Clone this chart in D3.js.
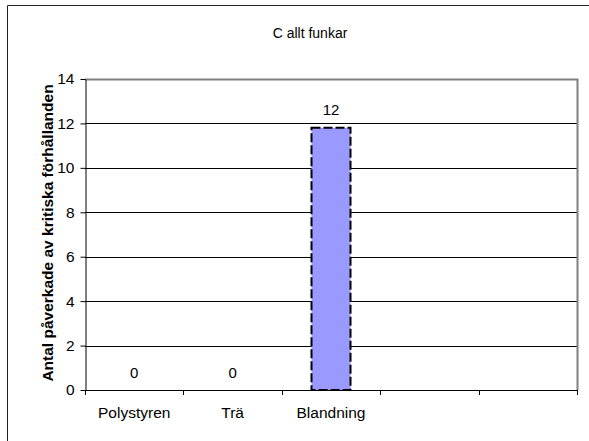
<!DOCTYPE html>
<html><head><meta charset="utf-8">
<script src="https://cdn.jsdelivr.net/npm/d3@7"></script>
<style>body{margin:0;background:#fff}svg{display:block}text{font-family:"Liberation Sans",Arial,sans-serif}</style>
</head><body><svg id="c" width="589" height="441"></svg>
<script>
const categories = ["Polystyren", "Trä", "Blandning", "", ""];
const values = [0, 0, 11.8, null, null];
const dataLabels = ["0", "0", "12", null, null];
const yTicks = [0, 2, 4, 6, 8, 10, 12, 14];
const title = "C allt funkar";
const yTitle = "Antal påverkade av kritiska förhållanden";

const FONT = '"Liberation Sans",Arial,sans-serif';
const svg = d3.select("#c");
const m = {l: 85, r: 577, t: 79, b: 390};
// outer frame (left & top visible)
svg.append("path").attr("d", "M7.5,441 V5.5 H589").attr("fill", "none").attr("stroke", "#222").attr("stroke-width", 1);

const x = d3.scaleBand().domain(categories.map((c, i) => i)).range([m.l, m.r]).paddingInner(0).paddingOuter(0);
const y = d3.scaleLinear().domain([0, 14]).range([m.b, m.t]);

// gridlines
svg.append("g").selectAll("line").data(yTicks.filter(t => t > 0 && t < 14)).join("line")
  .attr("x1", m.l).attr("x2", m.r).attr("y1", d => Math.round(y(d)) + 0.5).attr("y2", d => Math.round(y(d)) + 0.5)
  .attr("stroke", "#000").attr("stroke-width", 1);
// plot area top/right border (gray)
svg.append("path").attr("d", `M${m.l},${Math.round(y(14)) + 0.5} H${m.r + 0.5} V${m.b}`)
  .attr("fill", "none").attr("stroke", "#808080").attr("stroke-width", 2);

// bars
const bw = 39;
svg.append("g").selectAll("rect").data(values.map((v, i) => ({v, i})).filter(d => d.v)).join("rect")
  .attr("x", d => x(d.i) + x.bandwidth() / 2 - bw / 2)
  .attr("y", d => y(d.v))
  .attr("width", bw)
  .attr("height", d => y(0) - y(d.v))
  .attr("fill", "#9999FF").attr("stroke", "#000").attr("stroke-width", 2).attr("stroke-dasharray", "9,3");

// data labels
svg.append("g").selectAll("text").data(values.map((v, i) => ({v, i, l: dataLabels[i]})).filter(d => d.l !== null)).join("text")
  .attr("x", d => x(d.i) + x.bandwidth() / 2)
  .attr("y", d => y(d.v) - 12.5)
  .attr("text-anchor", "middle").attr("font-size", 15).attr("fill", "#000")
  .text(d => d.l);

// y axis
const yAxis = svg.append("g").attr("transform", `translate(${m.l + 0.5},0)`)
  .call(d3.axisLeft(y).tickValues(yTicks).tickSize(5).tickSizeOuter(0).tickPadding(6));
yAxis.select(".domain").attr("stroke", "#000");
yAxis.selectAll(".tick line").attr("stroke", "#000");
yAxis.selectAll("text").attr("font-size", 15.5).attr("fill", "#000").attr("font-family", FONT);

// x axis
const xAxis = svg.append("g").attr("transform", `translate(0,${m.b + 0.5})`)
  .call(d3.axisBottom(x).tickFormat(i => categories[i]).tickSize(0).tickPadding(0));
xAxis.select(".domain").attr("stroke", "#000").attr("d", `M${m.l},0H${m.r + 1}`);
xAxis.selectAll("text").attr("font-size", 15.5).attr("fill", "#000").attr("font-family", FONT)
  .attr("dy", null).attr("y", 27.5);
// tick marks at band boundaries
const bounds = categories.map((c, i) => x(i)).concat([m.r]);
svg.append("g").selectAll("line").data(bounds).join("line")
  .attr("x1", d => Math.round(d) + 0.5).attr("x2", d => Math.round(d) + 0.5)
  .attr("y1", m.b).attr("y2", m.b + 5).attr("stroke", "#000");

// titles
svg.append("text").attr("x", 310).attr("y", 38).attr("text-anchor", "middle").attr("font-size", 14).text(title);
svg.append("text").attr("transform", `translate(53,${(83 + 383) / 2}) rotate(-90)`)
  .attr("text-anchor", "middle").attr("font-size", 15.5).attr("font-weight", "bold").text(yTitle);
</script></body></html>
